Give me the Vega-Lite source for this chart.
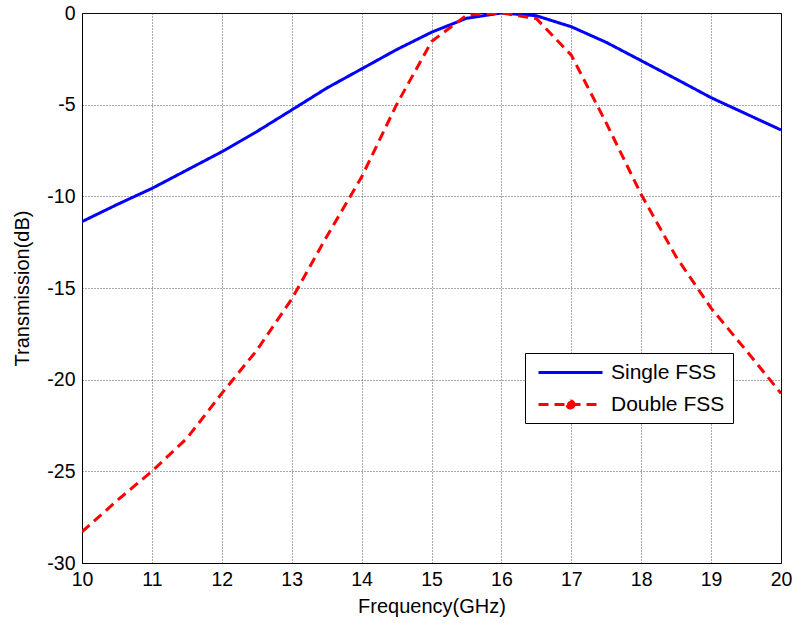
{
  "$schema": "https://vega.github.io/schema/vega-lite/v6.json",
  "width": 699,
  "height": 550,
  "autosize": {"type": "none"},
  "padding": {"left": 82, "top": 13, "right": 14, "bottom": 60},
  "background": "white",
  "config": {
    "font": "Liberation Sans",
    "view": {"stroke": "#000", "strokeWidth": 1},
    "axis": {
      "domainColor": "#000",
      "domainWidth": 1,
      "gridColor": "#2a2a2a",
      "gridDash": [1, 2],
      "gridWidth": 1,
      "gridOpacity": 0.8,
      "ticks": false,
      "labelColor": "#000",
      "titleColor": "#000",
      "labelFontSize": 19.5,
      "titleFontSize": 20,
      "titleFontWeight": "normal",
      "labelFlush": false,
      "labelOverlap": false
    },
    "legend": {
      "labelFontSize": 21,
      "labelColor": "#000",
      "labelFont": "Liberation Sans"
    }
  },
  "data": {
    "values": [
      {"f": 10, "series": "Single FSS", "db": -11.38},
      {"f": 10.5, "series": "Single FSS", "db": -10.45},
      {"f": 11, "series": "Single FSS", "db": -9.57},
      {"f": 11.5, "series": "Single FSS", "db": -8.57},
      {"f": 12, "series": "Single FSS", "db": -7.57},
      {"f": 12.5, "series": "Single FSS", "db": -6.47},
      {"f": 13, "series": "Single FSS", "db": -5.29},
      {"f": 13.5, "series": "Single FSS", "db": -4.1},
      {"f": 14, "series": "Single FSS", "db": -3.05},
      {"f": 14.5, "series": "Single FSS", "db": -2.0},
      {"f": 15, "series": "Single FSS", "db": -1.05},
      {"f": 15.5, "series": "Single FSS", "db": -0.29},
      {"f": 16, "series": "Single FSS", "db": 0},
      {"f": 16.5, "series": "Single FSS", "db": -0.15},
      {"f": 17, "series": "Single FSS", "db": -0.75},
      {"f": 17.5, "series": "Single FSS", "db": -1.6},
      {"f": 18, "series": "Single FSS", "db": -2.6},
      {"f": 18.5, "series": "Single FSS", "db": -3.6},
      {"f": 19, "series": "Single FSS", "db": -4.62},
      {"f": 19.5, "series": "Single FSS", "db": -5.5},
      {"f": 20, "series": "Single FSS", "db": -6.38},
      {"f": 10, "series": "Double FSS", "db": -28.3},
      {"f": 10.5, "series": "Double FSS", "db": -26.6},
      {"f": 11, "series": "Double FSS", "db": -25.0},
      {"f": 11.5, "series": "Double FSS", "db": -23.2},
      {"f": 12, "series": "Double FSS", "db": -20.75},
      {"f": 12.5, "series": "Double FSS", "db": -18.4},
      {"f": 13, "series": "Double FSS", "db": -15.6},
      {"f": 13.5, "series": "Double FSS", "db": -12.2},
      {"f": 14, "series": "Double FSS", "db": -8.95},
      {"f": 14.5, "series": "Double FSS", "db": -5.0},
      {"f": 15, "series": "Double FSS", "db": -1.56},
      {"f": 15.5, "series": "Double FSS", "db": -0.12},
      {"f": 16, "series": "Double FSS", "db": 0},
      {"f": 16.5, "series": "Double FSS", "db": -0.3},
      {"f": 17, "series": "Double FSS", "db": -2.3},
      {"f": 17.5, "series": "Double FSS", "db": -6.0},
      {"f": 18, "series": "Double FSS", "db": -9.9},
      {"f": 18.5, "series": "Double FSS", "db": -13.3},
      {"f": 19, "series": "Double FSS", "db": -16.1},
      {"f": 19.5, "series": "Double FSS", "db": -18.4},
      {"f": 20, "series": "Double FSS", "db": -20.75}
    ]
  },
  "mark": {"type": "line", "strokeWidth": 3, "clip": true},
  "encoding": {
    "x": {
      "field": "f",
      "type": "quantitative",
      "title": "Frequency(GHz)",
      "scale": {"domain": [10, 20], "nice": false, "zero": false},
      "axis": {
        "values": [10, 11, 12, 13, 14, 15, 16, 17, 18, 19, 20],
        "labelPadding": 7,
        "titlePadding": 8
      }
    },
    "y": {
      "field": "db",
      "type": "quantitative",
      "title": "Transmission(dB)",
      "scale": {"domain": [-30, 0], "nice": false, "zero": false},
      "axis": {
        "values": [-30, -25, -20, -15, -10, -5, 0],
        "labelExpr": "datum.value < 0 ? '-' + abs(datum.value) : '' + datum.value",
        "labelPadding": 7,
        "titlePadding": 14
      }
    },
    "color": {
      "field": "series",
      "type": "nominal",
      "scale": {"domain": ["Single FSS", "Double FSS"], "range": ["#0000ff", "#ff0000"]},
      "legend": {
        "title": null,
        "orient": "none",
        "legendX": 443,
        "legendY": 340,
        "padding": 8,
        "fillColor": "white",
        "strokeColor": "#000",
        "symbolSize": 400,
        "symbolStrokeWidth": 3,
        "labelOffset": 55,
        "rowPadding": 10,
        "encode": {
          "symbols": {
            "update": {
              "shape": {"signal": "datum.value === 'Double FSS' ? 'M-0.6,0L5.8,0M2.95,0A0.35,0.35,0,1,1,2.25,0A0.35,0.35,0,1,1,2.95,0Z' : 'M-0.6,0L5.8,0'"},
              "fill": {"signal": "datum.value === 'Double FSS' ? '#ff0000' : 'transparent'"}
            }
          }
        }
      }
    },
    "strokeDash": {
      "field": "series",
      "type": "nominal",
      "scale": {"domain": ["Single FSS", "Double FSS"], "range": [[1, 0], [10, 6]]},
      "legend": {
        "title": null,
        "orient": "none",
        "legendX": 443,
        "legendY": 340,
        "padding": 8,
        "fillColor": "white",
        "strokeColor": "#000",
        "symbolSize": 400,
        "symbolStrokeWidth": 3,
        "labelOffset": 55,
        "rowPadding": 10,
        "encode": {
          "symbols": {
            "update": {
              "shape": {"signal": "datum.value === 'Double FSS' ? 'M-0.6,0L5.8,0M2.95,0A0.35,0.35,0,1,1,2.25,0A0.35,0.35,0,1,1,2.95,0Z' : 'M-0.6,0L5.8,0'"},
              "fill": {"signal": "datum.value === 'Double FSS' ? '#ff0000' : 'transparent'"}
            }
          }
        }
      }
    }
  }
}
